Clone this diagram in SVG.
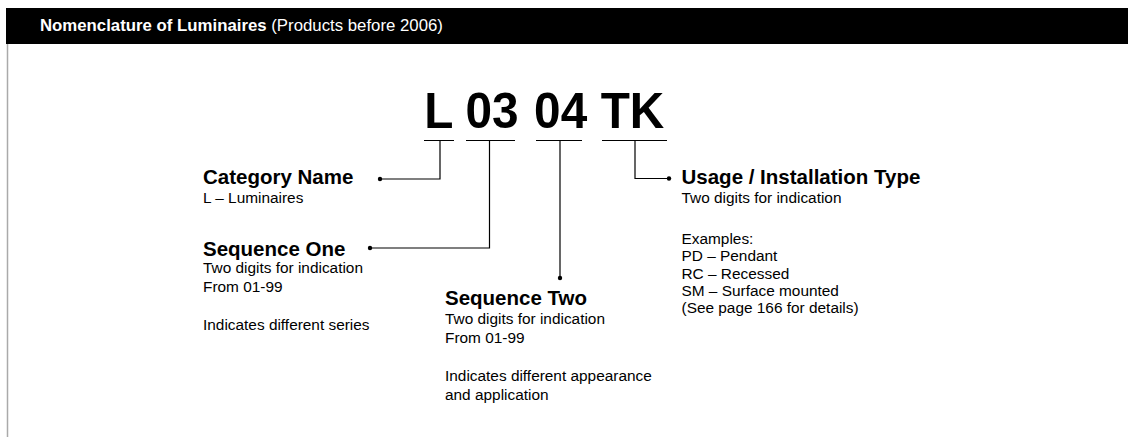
<svg xmlns="http://www.w3.org/2000/svg" width="1128" height="437" viewBox="0 0 1128 437">
<style>
.hb{font-family:"Liberation Sans",Arial,sans-serif;font-weight:bold;font-size:16.8px;fill:#fff}
.hr{font-family:"Liberation Sans",Arial,sans-serif;font-size:16.8px;fill:#fff}
.code{font-family:"Liberation Sans",Arial,sans-serif;font-weight:bold;font-size:50px;fill:#000}
.t{font-family:"Liberation Sans",Arial,sans-serif;font-weight:bold;font-size:20.5px;fill:#000}
.s{font-family:"Liberation Sans",Arial,sans-serif;font-size:15.4px;fill:#000}
.ln{stroke:#000;stroke-width:1.2;fill:none}
</style>
<rect x="0" y="0" width="1128" height="437" fill="#fff"/>
<g id="header">
<rect x="6" y="8" width="1122" height="36" fill="#000"/>
<text x="40" y="31"><tspan class="hb">Nomenclature of Luminaires</tspan><tspan class="hr"> (Products before 2006)</tspan></text>
</g>
<line x1="7.5" y1="44" x2="7.5" y2="437" stroke="#aaa" stroke-width="1.5"/>
<g id="code">
<text class="code" transform="translate(424.2 128) scale(0.955 1)">L</text>
<text class="code" transform="translate(465.4 128) scale(0.955 1)">03</text>
<text class="code" transform="translate(534.1 128) scale(0.955 1)">04</text>
<text class="code" transform="translate(600.7 128) scale(0.955 1)">TK</text>
</g>
<g id="connectors">
<path class="ln" d="M424 140.5H454M466 140.5H515M536 140.5H582M602 140.5H667"/>
<path class="ln" d="M440 140.5V179H380"/>
<path class="ln" d="M489.5 140.5V248H370"/>
<path class="ln" d="M560 140.5V278"/>
<path class="ln" d="M635 140.5V178.5H669"/>
<circle cx="380" cy="179" r="2.2" fill="#000"/>
<circle cx="370" cy="248" r="2.2" fill="#000"/>
<circle cx="560" cy="278" r="2.2" fill="#000"/>
<circle cx="669" cy="178.5" r="2.2" fill="#000"/>
</g>
<g id="category">
<text class="t" x="203" y="184">Category Name</text>
<text class="s" x="203" y="203">L – Luminaires</text>
</g>
<g id="seq1">
<text class="t" x="203" y="256">Sequence One</text>
<text class="s" x="203" y="273">Two digits for indication</text>
<text class="s" x="203" y="292">From 01-99</text>
<text class="s" x="203" y="330">Indicates different series</text>
</g>
<g id="seq2">
<text class="t" x="445" y="305">Sequence Two</text>
<text class="s" x="445" y="324">Two digits for indication</text>
<text class="s" x="445" y="343">From 01-99</text>
<text class="s" x="445" y="381">Indicates different appearance</text>
<text class="s" x="445" y="400">and application</text>
</g>
<g id="usage">
<text class="t" x="681.5" y="184">Usage / Installation Type</text>
<text class="s" x="681.5" y="203">Two digits for indication</text>
<text class="s" x="681.5" y="244">Examples:</text>
<text class="s" x="681.5" y="261">PD – Pendant</text>
<text class="s" x="681.5" y="278.5">RC – Recessed</text>
<text class="s" x="681.5" y="296">SM – Surface mounted</text>
<text class="s" x="681.5" y="313">(See page 166 for details)</text>
</g>
</svg>
